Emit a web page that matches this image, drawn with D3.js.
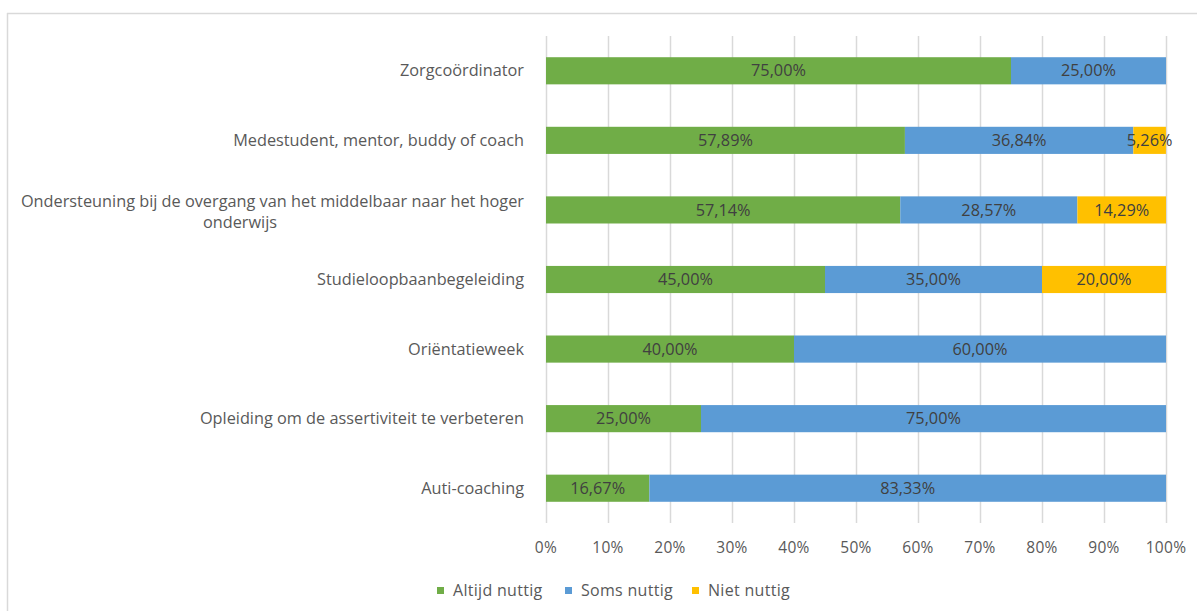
<!DOCTYPE html>
<html>
<head>
<meta charset="utf-8">
<script src="https://cdn.jsdelivr.net/npm/d3@7"></script>
<style>
  html, body { margin: 0; padding: 0; background: #fff; }
  svg { display: block; }
  text { font-family: "Open Sans", "Liberation Sans", sans-serif; }
</style>
</head>
<body>
<svg id="chart" width="1197" height="611"></svg>
<script>
// Categories (top to bottom) and percentages per response
const categories = [
  "Zorgcoördinator",
  "Medestudent, mentor, buddy of coach",
  "Ondersteuning bij de overgang van het middelbaar naar het hoger onderwijs",
  "Studieloopbaanbegeleiding",
  "Oriëntatieweek",
  "Opleiding om de assertiviteit te verbeteren",
  "Auti-coaching"
];
const seriesNames = ["Altijd nuttig", "Soms nuttig", "Niet nuttig"];
const altijdNuttig = [75.00, 57.89, 57.14, 45.00, 40.00, 25.00, 16.67];
const somsNuttig   = [25.00, 36.84, 28.57, 35.00, 60.00, 75.00, 83.33];
const nietNuttig   = [0, 5.26, 14.29, 20.00, 0, 0, 0];
const xTicks = [0, 10, 20, 30, 40, 50, 60, 70, 80, 90, 100];

const colors = ["#70AD47", "#5B9BD5", "#FFC000"];

const svg = d3.select("#chart");
const W = 1197, H = 611;

// chart area frame (left and top edges visible)
svg.append("line").attr("x1", 7.5).attr("x2", 7.5).attr("y1", 13).attr("y2", H).attr("stroke", "#D9D9D9").attr("stroke-width", 1.5);
svg.append("line").attr("x1", 7).attr("x2", W).attr("y1", 13.5).attr("y2", 13.5).attr("stroke", "#D9D9D9").attr("stroke-width", 1.5);

const plotLeft = 546, plotRight = 1166, plotTop = 36, plotBottom = 523;

const x = d3.scaleLinear().domain([0, 100]).range([plotLeft, plotRight]);
const y = d3.scaleBand().domain(categories).range([plotTop, plotBottom]).paddingInner(0.61).paddingOuter(0.305);

// gridlines
svg.append("g").selectAll("line").data(xTicks).join("line")
  .attr("x1", d => Math.round(x(d)) + 0.5).attr("x2", d => Math.round(x(d)) + 0.5)
  .attr("y1", plotTop).attr("y2", plotBottom)
  .attr("stroke", "#D9D9D9").attr("stroke-width", 1.5);

// stacked data
const rows = categories.map((c, i) => ({ cat: c, "Altijd nuttig": altijdNuttig[i], "Soms nuttig": somsNuttig[i], "Niet nuttig": nietNuttig[i] }));
const stacked = d3.stack().keys(seriesNames)(rows);

const fmt = v => v.toFixed(2).replace(".", ",") + "%";

stacked.forEach((layer, si) => {
  const g = svg.append("g");
  g.selectAll("rect").data(layer.filter(d => d[1] - d[0] > 0)).join("rect")
    .attr("x", d => x(d[0]))
    .attr("width", d => x(d[1]) - x(d[0]))
    .attr("y", d => y(d.data.cat))
    .attr("height", y.bandwidth())
    .attr("fill", colors[si]);
});

// data labels
stacked.forEach((layer, si) => {
  svg.append("g").selectAll("text").data(layer.filter(d => d[1] - d[0] > 0)).join("text")
    .attr("x", d => x((d[0] + d[1]) / 2))
    .attr("y", d => y(d.data.cat) + y.bandwidth() / 2)
    .attr("dy", "0.35em")
    .attr("text-anchor", "middle")
    .attr("font-size", 16.3)
    .attr("fill", "#404040")
    .text(d => fmt(d[1] - d[0]));
});

// category labels
const catG = svg.append("g");
categories.forEach(c => {
  const cy = y(c) + y.bandwidth() / 2;
  if (c.startsWith("Ondersteuning")) {
    catG.append("text").attr("x", 524).attr("y", cy - 9).attr("dy", "0.35em")
      .attr("text-anchor", "end").attr("font-size", 16.3).attr("fill", "#595959")
      .text("Ondersteuning bij de overgang van het middelbaar naar het hoger");
    catG.append("text").attr("x", 240).attr("y", cy + 12).attr("dy", "0.35em")
      .attr("text-anchor", "middle").attr("font-size", 16.3).attr("fill", "#595959")
      .text("onderwijs");
  } else {
    catG.append("text").attr("x", 524).attr("y", cy).attr("dy", "0.35em")
      .attr("text-anchor", "end").attr("font-size", 16.3).attr("fill", "#595959")
      .text(c);
  }
});

// x axis tick labels
svg.append("g").selectAll("text").data(xTicks).join("text")
  .attr("x", d => x(d)).attr("y", 548).attr("dy", "0.35em")
  .attr("text-anchor", "middle").attr("font-size", 15.5).attr("letter-spacing", 0.3).attr("fill", "#595959")
  .text(d => d + "%");

// legend
const legendX = [437, 565, 692];
const lg = svg.append("g");
seriesNames.forEach((s, i) => {
  lg.append("rect").attr("x", legendX[i]).attr("y", 587).attr("width", 7).attr("height", 7).attr("fill", colors[i]);
  lg.append("text").attr("x", legendX[i] + 16).attr("y", 590).attr("dy", "0.35em")
    .attr("font-size", 16).attr("letter-spacing", 0.3).attr("fill", "#595959").text(s);
});
</script>
</body>
</html>
